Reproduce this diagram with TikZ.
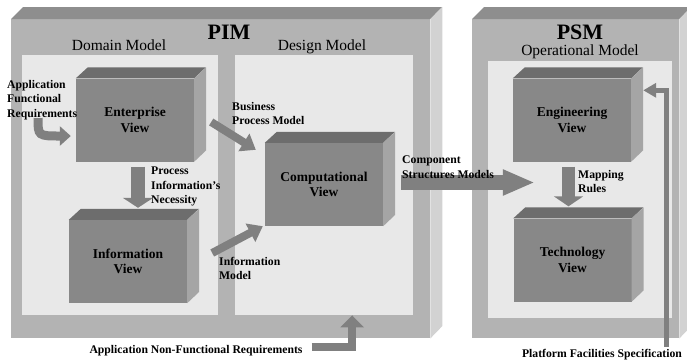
\documentclass[tikz,border=0pt]{standalone}
\usepackage{fontspec}
\setmainfont{Liberation Serif}
\usetikzlibrary{arrows.meta}
\definecolor{framegray}{HTML}{B3B3B3}
\definecolor{frametop}{HTML}{8E8E8E}
\definecolor{frameside}{HTML}{D2D2D2}
\definecolor{panelgray}{HTML}{E8E8E8}
\definecolor{boxfront}{HTML}{888888}
\definecolor{boxtop}{HTML}{6D6D6D}
\definecolor{boxside}{HTML}{A5A5A5}
\definecolor{arrowgray}{HTML}{808080}

\tikzset{
  frame/.style={shape=rectangle, fill=framegray, anchor=north west, inner sep=0},
  panel/.style={shape=rectangle, fill=panelgray, anchor=north west, inner sep=0},
  view/.style={shape=rectangle, fill=boxfront, minimum width=118pt, minimum height=83pt, align=center, font=\bfseries\fontsize{13.5}{15.5}\selectfont},
  note/.style={inner sep=0, font=\bfseries\fontsize{11.7}{14.5}\selectfont},
  lbl/.style={note, anchor=north west, align=left},
  fat/.style={draw=arrowgray, line width=9pt, -{Triangle[width=19pt,length=11pt]}},
}

\begin{document}
\begin{tikzpicture}[x=1pt, y=-1pt]
\useasboundingbox (0,0) rectangle (687,360);

% PIM frame
\node [frame, minimum width=419pt, minimum height=319pt] (pim) at (11,19) {};
\fill [frametop] (pim.north west) -- ++(12,-12) -- ++(419,0) -- (pim.north east) -- cycle;
\fill [frameside] (pim.north east) -- ++(12,-12) -- ++(0,319) -- (pim.south east) -- cycle;
\node [panel, minimum width=196pt, minimum height=260pt] (domain) at (22,55) {};
\node [panel, minimum width=178pt, minimum height=260pt] (design) at (235,55) {};

% PSM frame
\node [frame, minimum width=207pt, minimum height=319pt] (psm) at (472,19) {};
\fill [frametop] (psm.north west) -- ++(12,-12) -- ++(207,0) -- (psm.north east) -- cycle;
\fill [frameside] (psm.north east) -- ++(12,-12) -- ++(0,319) -- (psm.south east) -- cycle;
\node [panel, minimum width=184pt, minimum height=257pt] (oper) at (488,61) {};

% titles
\node [anchor=base, font=\bfseries\fontsize{22}{24}\selectfont] (pimtitle) at (229,39) {PIM};
\node [anchor=base, font=\bfseries\fontsize{22}{24}\selectfont] (psmtitle) at (580,39) {PSM};
\node [anchor=base, font=\fontsize{15.5}{17}\selectfont] (domtitle) at (119,50) {Domain Model};
\node [anchor=base, font=\fontsize{15.5}{17}\selectfont] (destitle) at (322,50) {Design Model};
\node [anchor=base, font=\fontsize{15.5}{17}\selectfont] (optitle) at (580,55) {Operational Model};

% views
\node [view] (ent) at (135,120) {Enterprise\\View};
\fill [boxtop] (ent.north west) -- ++(12,-11) -- ++(118,0) -- (ent.north east) -- cycle;
\fill [boxside] (ent.north east) -- ++(12,-11) -- ++(0,83) -- (ent.south east) -- cycle;
\node [view] (info) at (128,261.5) {Information\\View};
\fill [boxtop] (info.north west) -- ++(12,-11) -- ++(118,0) -- (info.north east) -- cycle;
\fill [boxside] (info.north east) -- ++(12,-11) -- ++(0,83) -- (info.south east) -- cycle;
\node [view] (comp) at (324,184.5) {Computational\\View};
\fill [boxtop] (comp.north west) -- ++(12,-11) -- ++(118,0) -- (comp.north east) -- cycle;
\fill [boxside] (comp.north east) -- ++(12,-11) -- ++(0,83) -- (comp.south east) -- cycle;
\node [view] (eng) at (572,120) {Engineering\\View};
\fill [boxtop] (eng.north west) -- ++(12,-11) -- ++(118,0) -- (eng.north east) -- cycle;
\fill [boxside] (eng.north east) -- ++(12,-11) -- ++(0,83) -- (eng.south east) -- cycle;
\node [view] (tech) at (572.5,260) {Technology\\View};
\fill [boxtop] (tech.north west) -- ++(12,-11) -- ++(118,0) -- (tech.north east) -- cycle;
\fill [boxside] (tech.north east) -- ++(12,-11) -- ++(0,83) -- (tech.south east) -- cycle;

% labels
\node [lbl] (funreq) at (7,80) {Application\\Functional\\Requirements};
\node [lbl] (bizlbl) at (232,102) {Business\\Process Model};
\node [lbl] (proclbl) at (151,167) {Process\\Information's\\Necessity};
\node [lbl] (infolbl) at (219,257) {Information\\Model};
\node [lbl] (maplbl) at (578,170) {Mapping\\Rules};
\node [note, anchor=base] (nfr) at (196,353) {Application Non-Functional Requirements};
\node [note, anchor=base] (plat) at (602,357) {Platform Facilities Specification};

% arrows
\coordinate (f1) at (38,118);
\coordinate (f2) at ([xshift=-5pt,yshift=-16pt]ent.west);
\draw [fat] (f1) .. controls (f1 |- f2) .. (f2);
\coordinate (p1) at ([xshift=3pt,yshift=-5pt]ent.south);
\draw [fat, line width=14pt, -{Triangle[width=30pt,length=10pt]}] (p1) -- ([yshift=12pt]p1 |- info.north);
\coordinate (m1) at ([xshift=-3.5pt,yshift=-5pt]eng.south);
\draw [fat, line width=13pt, -{Triangle[width=29pt,length=10pt]}] (m1) -- ([yshift=12pt]m1 |- tech.north);
\coordinate (b1) at ([xshift=17pt,yshift=-2pt]ent.east);
\draw [fat, line width=8pt, -{Triangle[width=20pt,length=14pt]}] (b1) -- ([xshift=-9pt,yshift=-7pt]comp.north west);
\coordinate (i1) at ([xshift=25pt,yshift=8.5pt]info.east);
\draw [fat, line width=8pt, -{Triangle[width=20pt,length=14pt]}] (i1) -- ([xshift=-2pt]comp.south west);
\coordinate (c1) at ([xshift=18pt,yshift=2pt]comp.east);
\draw [fat, line width=15pt, -{Triangle[width=24pt,length=32pt]}] (c1) -- ([xshift=22pt]c1 -| eng.west);
\draw [fat, line width=8pt, -{Triangle[width=23pt,length=12pt]}] ([xshift=9pt,yshift=3.5pt]nfr.east) -| ([xshift=28pt]design.south);
\coordinate (pf) at ([xshift=64pt,yshift=2pt]plat.north);
\draw [draw=arrowgray, line width=5pt, -{Triangle[width=14pt,length=13pt]}] (pf) |- ([xshift=12pt,yshift=-12pt]eng.north east);

\node [lbl] (complbl) at (402,156) {Component\\Structures Models};
\end{tikzpicture}
\end{document}
